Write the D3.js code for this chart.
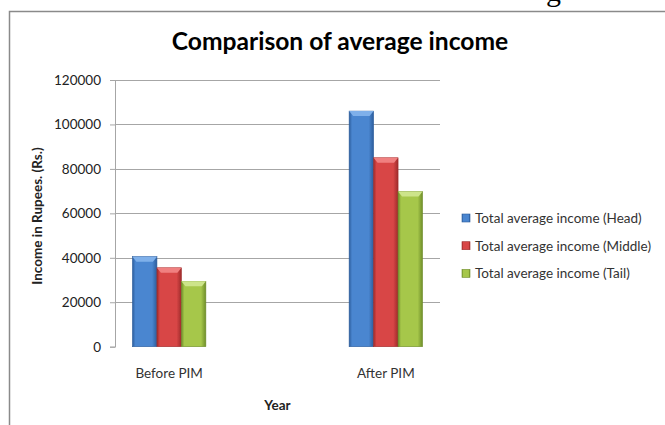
<!DOCTYPE html>
<html>
<head>
<meta charset="utf-8">
<script src="https://cdn.jsdelivr.net/npm/d3@7"></script>
<style>
  body { margin: 0; background: #fff; }
  svg { display: block; }
  text { font-family: Lato, "Open Sans", sans-serif; fill: #222; }
</style>
</head>
<body>
<svg id="chart" width="665" height="425"></svg>
<script>
// categories and series
var categories = ["Before PIM", "After PIM"];
var seriesNames = ["Total average income (Head)", "Total average income (Middle)", "Total average income (Tail)"];
var headValues = [40500, 106000];
var middleValues = [35500, 85000];
var tailValues = [29400, 69800];
var yTicks = [0, 20000, 40000, 60000, 80000, 100000, 120000];

var seriesValues = [headValues, middleValues, tailValues];
var seriesColors = [
    { mid: "#4a86d0", dark: "#2c5d9c", light: "#7fb0ea" },
    { mid: "#d84646", dark: "#9e2b2b", light: "#f08080" },
    { mid: "#a6c74a", dark: "#6f8e2a", light: "#cde48a" }
];

var svg = d3.select("#chart");

var plot = { left: 115, right: 440, top: 80, bottom: 346.7 };

// page frame around the chart object
svg.append("path")
    .attr("d", "M9.5,430 L9.5,11.5 L670,11.5")
    .attr("fill", "none")
    .attr("stroke", "#8a8a8a")
    .attr("stroke-width", 1.5);

// bit of document text clipped at the top
svg.append("text")
    .attr("x", 546)
    .attr("y", 1)
    .style("font-family", "'Liberation Serif', serif")
    .style("font-size", "30px")
    .style("fill", "#000")
    .text("g");

var defs = svg.append("defs");
seriesColors.forEach(function(c, i) {
    var g = defs.append("linearGradient")
        .attr("id", "grad" + i)
        .attr("x1", "0%").attr("x2", "100%")
        .attr("y1", "0%").attr("y2", "0%");
    g.append("stop").attr("offset", "0%").attr("stop-color", c.dark);
    g.append("stop").attr("offset", "12%").attr("stop-color", c.mid);
    g.append("stop").attr("offset", "80%").attr("stop-color", c.mid);
    g.append("stop").attr("offset", "100%").attr("stop-color", c.dark);
});

var y = d3.scaleLinear()
    .domain([0, 120000])
    .range([plot.bottom, plot.top]);

var x0 = d3.scalePoint()
    .domain(categories)
    .range([plot.left, plot.right])
    .padding(0.25);

var x1 = d3.scaleBand()
    .domain(d3.range(seriesNames.length))
    .range([-36.7, 36.7]);

// title
svg.append("text")
    .attr("x", 340)
    .attr("y", 49.5)
    .attr("text-anchor", "middle")
    .style("font-size", "24.6px")
    .style("font-weight", "bold")
    .style("fill", "#000")
    .text("Comparison of average income");

// gridlines
svg.append("g")
    .selectAll("line")
    .data(yTicks.filter(function(d) { return d > 0; }))
    .enter()
    .append("line")
    .attr("x1", plot.left)
    .attr("x2", plot.right)
    .attr("y1", function(d) { return Math.round(y(d)) + 0.5; })
    .attr("y2", function(d) { return Math.round(y(d)) + 0.5; })
    .attr("stroke", "#a6a6a6")
    .attr("stroke-width", 1);

// y axis
var yAxis = svg.append("g")
    .attr("transform", "translate(" + plot.left + ",0)")
    .call(d3.axisLeft(y).tickValues(yTicks).tickSize(5).tickPadding(9).tickFormat(d3.format("d")));
yAxis.select(".domain").attr("stroke", "#a6a6a6");
yAxis.selectAll(".tick line").attr("stroke", "#a6a6a6");
yAxis.selectAll(".tick text")
    .style("font-size", "13.5px")
    .style("font-family", "Lato, sans-serif")
    .attr("fill", "#333");

// bars
var groups = svg.append("g")
    .selectAll("g")
    .data(categories)
    .enter()
    .append("g")
    .attr("transform", function(d) { return "translate(" + x0(d) + ",0)"; });

groups.selectAll("rect.bar")
    .data(function(d, ci) {
        return seriesValues.map(function(vals, si) { return { s: si, value: vals[ci] }; });
    })
    .enter()
    .append("rect")
    .attr("class", "bar")
    .attr("x", function(d) { return x1(d.s); })
    .attr("width", x1.bandwidth())
    .attr("y", function(d) { return y(d.value); })
    .attr("height", function(d) { return y(0) - y(d.value); })
    .attr("fill", function(d) { return "url(#grad" + d.s + ")"; })
    .attr("stroke", function(d) { return seriesColors[d.s].dark; })
    .attr("stroke-width", 0.6);

// bevel on bar tops
groups.selectAll("path.cap")
    .data(function(d, ci) {
        return seriesValues.map(function(vals, si) { return { s: si, value: vals[ci] }; });
    })
    .enter()
    .append("path")
    .attr("class", "cap")
    .attr("d", function(d) {
        var xl = x1(d.s), xr = xl + x1.bandwidth(), t = y(d.value);
        return "M" + xl + "," + t + "L" + xr + "," + t + "L" + (xr - 4) + "," + (t + 5) + "L" + (xl + 4) + "," + (t + 5) + "Z";
    })
    .attr("fill", function(d) { return seriesColors[d.s].light; });

// category labels
svg.append("g")
    .selectAll("text")
    .data(categories)
    .enter()
    .append("text")
    .attr("x", function(d) { return x0(d); })
    .attr("y", 378)
    .attr("text-anchor", "middle")
    .style("font-size", "13.5px")
    .style("fill", "#333")
    .text(function(d) { return d; });

// axis titles
svg.append("text")
    .attr("x", 277.5)
    .attr("y", 410)
    .attr("text-anchor", "middle")
    .style("font-size", "13.5px")
    .style("font-weight", "bold")
    .text("Year");

svg.append("text")
    .attr("transform", "translate(42,216) rotate(-90)")
    .attr("text-anchor", "middle")
    .style("font-size", "13.5px")
    .style("font-weight", "bold")
    .text("Income in Rupees. (Rs.)");

// legend
var legend = svg.append("g")
    .selectAll("g")
    .data(seriesNames)
    .enter()
    .append("g")
    .attr("transform", function(d, i) { return "translate(462," + (218 + i * 27.7) + ")"; });

legend.append("rect")
    .attr("x", 0)
    .attr("y", -4)
    .attr("width", 8)
    .attr("height", 8)
    .attr("fill", function(d, i) { return "url(#grad" + i + ")"; })
    .attr("stroke", function(d, i) { return seriesColors[i].dark; })
    .attr("stroke-width", 0.6);

legend.append("text")
    .attr("x", 13)
    .attr("y", 5)
    .style("font-size", "13.5px")
    .style("fill", "#333")
    .text(function(d) { return d; });
</script>
</body>
</html>
